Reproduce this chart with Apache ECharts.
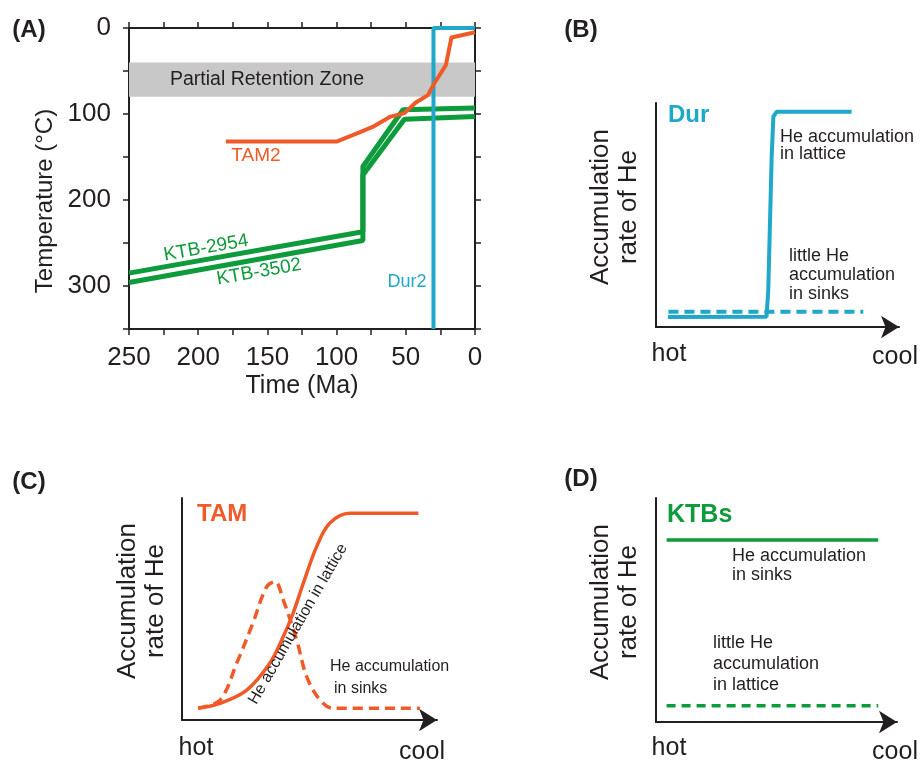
<!DOCTYPE html>
<html><head><meta charset="utf-8">
<script src="https://cdn.jsdelivr.net/npm/echarts@6/dist/echarts.min.js"></script>
<style>html,body{margin:0;padding:0;background:#fff}#c{width:921px;height:761px}</style>
</head><body><div id="c"></div>
<script>
// ---------- Panel A data: [time (Ma), temperature (°C)] ----------
const tam2 = [[180,132],[100,132],[83,121],[74,115],[61,103],[51,99],[43,87],[34,78],[30,66],[21,43],[17,11],[0,5]];
const ktb2954 = [[250,285],[81,237],[81,161],[52,95],[0,93]];
const ktb3502 = [[250,296],[81,247],[81,171],[51,106],[0,103]];
const dur2 = [[30,350],[30,0],[0,0]];
const partialRetentionZone = [40, 80];
const timeLabels = [250,200,150,100,50,0];
const tempLabels = [0,100,200,300];
// ---------- Panels B-D schematic curves (arbitrary units, hot -> cool) ----------
const durLattice = [[4.9,4.5],[45.5,4.6],[46.2,16.5],[47.6,76],[48.3,93.9],[49.7,96.1],[80.5,96.1]];
const durSinks = [[5.1,6.8],[85.3,6.8]];
const tamLattice = [[6.4,5.3],[14.9,7.5],[25.4,13.5],[34.5,25.7],[39.7,37.5],[43.6,48.2],[47.6,61.7],[52.8,78.1],[58,88.7],[65.9,93.1],[92.7,93.1]];
const tamSinks = [[6.3,5.4],[14.9,9],[21.5,25.7],[27.8,43.7],[33.2,60],[36.5,62.3],[39.7,54.1],[45,36],[48.9,19.5],[54.1,9],[59.3,5.3],[93.3,5.3]];
const ktbSinks = [[4.4,81.3],[92.2,81.3]];
const ktbLattice = [[4.4,7.3],[92.2,7.3]];

const DARK = '#231f20', ORANGE = '#ef5a28', GREEN = '#0d9b3c', CYAN = '#1fa8c9', GRAY = '#c8c8c8';
const FF = '"Liberation Sans", Arial, Helvetica, sans-serif';

const chart = echarts.init(document.getElementById('c'), null, {renderer:'canvas'});

function schemX(gi){
  return {gridIndex:gi, type:'value', min:0, max:100,
    axisLine:{show:true, onZero:false, symbol:['none','arrow'], symbolSize:[17,18], lineStyle:{color:DARK,width:2}},
    axisTick:{show:false}, axisLabel:{show:false}, splitLine:{show:false}};
}
function schemY(gi){
  return {gridIndex:gi, type:'value', min:0, max:100,
    axisLine:{show:true, onZero:false, lineStyle:{color:DARK,width:2}},
    axisTick:{show:false}, axisLabel:{show:false}, splitLine:{show:false}};
}
const tickStyle = {show:true, inside:false, length:6, lineStyle:{color:DARK,width:1.5}};
const lineA = {color:DARK, width:2};

function txt(text, x, y, opt){
  opt = opt || {};
  return {type:'text', x:x, y:y, rotation:opt.rot||0, z:100,
    style:{text:text, fill:opt.color||DARK, font:(opt.weight||'normal')+' '+(opt.size||18)+'px '+FF,
      align:opt.align||'center', verticalAlign:'middle', lineHeight:opt.lh||undefined}};
}

const option = {
  animation:false,
  backgroundColor:'#fff',
  grid:[
    {left:129, top:28, width:346, height:301},
    {left:656, top:103, width:243, height:224},
    {left:182, top:498, width:255, height:222},
    {left:656, top:498, width:241, height:224}
  ],
  xAxis:[
    {gridIndex:0, type:'value', min:0, max:250, interval:25, inverse:true, position:'bottom',
      axisLine:{show:true,onZero:false,lineStyle:lineA}, axisTick:tickStyle,
      axisLabel:{formatter:v=>timeLabels.indexOf(v)>=0?String(v):'', fontSize:26, fontFamily:FF, color:DARK, margin:16},
      splitLine:{show:false},
      name:'Time (Ma)', nameLocation:'middle', nameGap:45, nameTextStyle:{fontSize:25, fontFamily:FF, color:DARK}},
    {gridIndex:0, type:'value', min:0, max:250, interval:25, inverse:true, position:'top',
      axisLine:{show:true,onZero:false,lineStyle:lineA}, axisTick:tickStyle, axisLabel:{show:false}, splitLine:{show:false}},
    schemX(1), schemX(2), schemX(3)
  ],
  yAxis:[
    {gridIndex:0, type:'value', min:0, max:350, interval:50, inverse:true, position:'left',
      axisLine:{show:true,onZero:false,lineStyle:lineA}, axisTick:tickStyle,
      axisLabel:{formatter:v=>tempLabels.indexOf(v)>=0?String(v):'', fontSize:26, fontFamily:FF, color:DARK, margin:18},
      splitLine:{show:false}},
    {gridIndex:0, type:'value', min:0, max:350, interval:50, inverse:true, position:'right',
      axisLine:{show:true,onZero:false,lineStyle:lineA}, axisTick:tickStyle, axisLabel:{show:false}, splitLine:{show:false}},
    schemY(1), schemY(2), schemY(3)
  ],
  series:[
    {name:'KTB-2954', type:'line', xAxisIndex:0, yAxisIndex:0, data:ktb2954, symbol:'none', z:2,
      lineStyle:{color:GREEN, width:5}, clip:false,
      markArea:{silent:true, z:1, itemStyle:{color:GRAY},
        label:{show:true, position:'insideLeft', distance:0, offset:[41,0], formatter:'Partial Retention Zone', fontSize:19.5, fontFamily:FF, color:DARK},
        data:[[{yAxis:partialRetentionZone[0]},{yAxis:partialRetentionZone[1]}]]}},
    {name:'KTB-3502', type:'line', xAxisIndex:0, yAxisIndex:0, data:ktb3502, symbol:'none', z:2,
      lineStyle:{color:GREEN, width:5}, clip:false},
    {name:'Dur2', type:'line', xAxisIndex:0, yAxisIndex:0, data:dur2, symbol:'none', z:3,
      lineStyle:{color:CYAN, width:4}, clip:false},
    {name:'TAM2', type:'line', xAxisIndex:0, yAxisIndex:0, data:tam2, symbol:'none', z:4,
      lineStyle:{color:ORANGE, width:4, join:'round'}, clip:false},
    {name:'Dur lattice', type:'line', xAxisIndex:2, yAxisIndex:2, data:durLattice, symbol:'none',
      lineStyle:{color:CYAN, width:4}},
    {name:'Dur sinks', type:'line', xAxisIndex:2, yAxisIndex:2, data:durSinks, symbol:'none',
      lineStyle:{color:CYAN, width:4, type:[10,6]}},
    {name:'TAM lattice', type:'line', xAxisIndex:3, yAxisIndex:3, data:tamLattice, symbol:'none', smooth:0.35,
      lineStyle:{color:ORANGE, width:3.5}},
    {name:'TAM sinks', type:'line', xAxisIndex:3, yAxisIndex:3, data:tamSinks, symbol:'none', smooth:0.35,
      lineStyle:{color:ORANGE, width:3.5, type:[10,6]}},
    {name:'KTB sinks', type:'line', xAxisIndex:4, yAxisIndex:4, data:ktbSinks, symbol:'none',
      lineStyle:{color:GREEN, width:3.5}},
    {name:'KTB lattice', type:'line', xAxisIndex:4, yAxisIndex:4, data:ktbLattice, symbol:'none',
      lineStyle:{color:GREEN, width:3.5, type:[9,6]}}
  ],
  graphic:[
    txt('(A)', 29, 30, {weight:'bold', size:24}),
    txt('(B)', 581, 30, {weight:'bold', size:24}),
    txt('(C)', 29, 482, {weight:'bold', size:24}),
    txt('(D)', 581, 479, {weight:'bold', size:24}),
    // panel A labels
    txt('Temperature (°C)', 45, 201, {size:24, rot:Math.PI/2}),
    txt('TAM2', 256, 156, {color:ORANGE, size:19}),
    txt('KTB-2954', 206, 248, {color:GREEN, size:19, rot:10*Math.PI/180}),
    txt('KTB-3502', 259, 272, {color:GREEN, size:19, rot:10*Math.PI/180}),
    txt('Dur2', 407, 282, {color:CYAN, size:18}),
    // panel B
    txt('Dur', 668, 115, {color:CYAN, size:24, weight:'bold', align:'left'}),
    txt('He accumulation\nin lattice', 780, 146, {size:18, align:'left', lh:17}),
    txt('little He\naccumulation\nin sinks', 789, 275, {size:18, align:'left', lh:19}),
    txt('Accumulation\nrate of He', 615, 207, {size:26, rot:Math.PI/2, lh:28}),
    txt('hot', 669, 354, {size:25}),
    txt('cool', 895, 357, {size:25}),
    // panel C
    txt('TAM', 197, 514, {color:ORANGE, size:24, weight:'bold', align:'left'}),
    txt('He accumulation in lattice', 298, 624, {size:16, rot:60*Math.PI/180}),
    txt('He accumulation', 330, 667, {size:16, align:'left'}),
    txt('in sinks', 334, 689, {size:16, align:'left'}),
    txt('Accumulation\nrate of He', 142, 601, {size:26, rot:Math.PI/2, lh:28}),
    txt('hot', 196, 748, {size:25}),
    txt('cool', 422, 752, {size:25}),
    // panel D
    txt('KTBs', 667, 515, {color:GREEN, size:25, weight:'bold', align:'left'}),
    txt('He accumulation\nin sinks', 732, 566, {size:18, align:'left', lh:19}),
    txt('little He\naccumulation\nin lattice', 713, 664, {size:18, align:'left', lh:21}),
    txt('Accumulation\nrate of He', 615, 602, {size:26, rot:Math.PI/2, lh:28}),
    txt('hot', 669, 748, {size:25}),
    txt('cool', 895, 752, {size:25})
  ]
};
chart.setOption(option);
</script></body></html>
